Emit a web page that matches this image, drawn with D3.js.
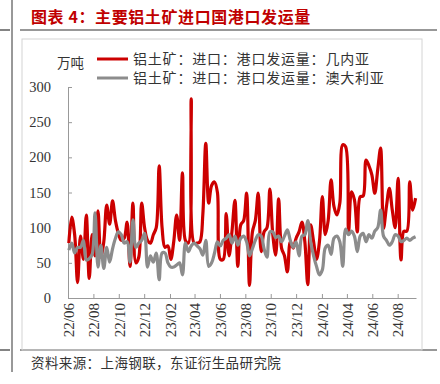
<!DOCTYPE html>
<html>
<head>
<meta charset="utf-8">
<style>body{margin:0;background:#fff}</style>
</head>
<body>
<script src="https://d3js.org/d3.v7.min.js"></script>
<script>
// weekly port shipments, 万吨
var guinea = [78,115,90,22,88,55,118,28,90,60,124,58,80,132,105,138,110,92,82,85,
  108,45,135,50,58,135,100,82,78,90,100,188,100,72,74,55,80,118,82,178,
  82,78,283,78,78,80,120,220,135,160,165,150,55,55,120,60,95,139,45,104,
  110,149,18,94,110,149,66,94,100,155,90,61,141,71,60,37,80,71,85,94,
  108,80,19,104,80,55,80,144,90,110,168,130,118,135,218,215,94,151,140,94,
  144,145,196,188,175,149,182,213,99,130,156,125,100,170,54,95,95,165,125,142];
var australia = [68,78,64,72,72,82,54,56,62,121,44,75,42,72,51,70,85,94,90,78,
  80,51,111,72,78,82,92,44,60,51,64,26,64,64,50,44,44,47,50,33,
  78,66,74,78,74,70,61,82,45,50,64,80,74,82,85,90,78,88,75,85,
  88,80,60,70,82,90,88,70,58,94,94,86,88,80,88,97,82,72,80,60,
  88,90,110,80,60,45,33,40,71,75,62,85,88,80,45,98,90,95,88,66,
  88,92,80,90,85,95,100,125,88,82,75,80,90,88,80,82,85,82,85,87];
var firstWeek = "2022-06-03";
var tickMonths = ["2022-06-01","2022-08-01","2022-10-01","2022-12-01","2023-02-01","2023-04-01","2023-06-01",
  "2023-08-01","2023-10-01","2023-12-01","2024-02-01","2024-04-01","2024-06-01","2024-08-01"];
var tickLabels = ["22/06","22/08","22/10","22/12","23/02","23/04","23/06","23/08","23/10","23/12","24/02","24/04","24/06","24/08"];
var yTicks = [0,50,100,150,200,250,300];
var seriesNames = ["铝土矿：进口：港口发运量：几内亚","铝土矿：进口：港口发运量：澳大利亚"];
var colors = ["#cc0000","#8c8c8c"];

var w = 440, h = 384;
var parse = d3.timeParse("%Y-%m-%d");
var start = parse(firstWeek);
var weeks = guinea.map(function(d,i){ return d3.timeWeek.offset(start, i); });

var svg = d3.select('body').append('svg').attr('width',w).attr('height',h)
  .style('font-family','"Noto Sans CJK SC", sans-serif');

// frame lines
svg.append('line').attr('x1',12).attr('x2',12).attr('y1',0).attr('y2',372).attr('stroke','#333').attr('stroke-width',1);
[30,350].forEach(function(yy){
  svg.append('line').attr('x1',0).attr('x2',10).attr('y1',yy).attr('y2',yy).attr('stroke','#333').attr('stroke-width',1.2);
  svg.append('line').attr('x1',20).attr('x2',437).attr('y1',yy).attr('y2',yy).attr('stroke','#333').attr('stroke-width',1.2);
});
svg.append('rect').attr('x',22).attr('y',39).attr('width',400).attr('height',311)
  .attr('fill','none').attr('stroke','#d4d4d4');

svg.append('text').attr('x',31).attr('y',23).attr('fill','#c00000')
  .attr('font-size',16).attr('font-weight','bold').attr('letter-spacing',0.6)
  .text('图表 4：主要铝土矿进口国港口发运量');
svg.append('text').attr('x',31).attr('y',368).attr('fill','#333')
  .attr('font-size',13.5).attr('letter-spacing',0.4)
  .text('资料来源：上海钢联，东证衍生品研究院');

var x = d3.scaleTime().domain([parse("2022-06-01"), parse("2024-09-14")]).range([68,416]);
var y = d3.scaleLinear().domain([0,300]).range([298,87]);

var gx = svg.append('g').attr('transform','translate(0,298)')
  .call(d3.axisBottom(x).tickValues(tickMonths.map(parse)).tickSize(-4).tickSizeOuter(0)
    .tickFormat(function(d,i){ return tickLabels[i]; }));
gx.selectAll('text').attr('transform','rotate(-90)').attr('text-anchor','end')
  .attr('x',-5).attr('y',0).attr('dy','0.35em')
  .style('font-family','"Liberation Serif", serif').style('font-size','15px').attr('fill','#333');

var gy = svg.append('g').attr('transform','translate(68,0)')
  .call(d3.axisLeft(y).tickValues(yTicks).tickSize(-4).tickSizeOuter(0));
gy.selectAll('text').attr('x',-17)
  .style('font-family','"Liberation Serif", serif').style('font-size','14.5px').attr('fill','#333');
svg.selectAll('.domain, .tick line').attr('stroke','#999');

var line = d3.line().curve(d3.curveCatmullRom.alpha(0.5))
  .x(function(d,i){ return x(weeks[i]); }).y(function(d){ return y(d); });
[guinea, australia].forEach(function(s,k){
  svg.append('path').datum(s).attr('d',line).attr('fill','none')
    .attr('stroke',colors[k]).attr('stroke-width',3.2).attr('stroke-linejoin','round');
});

// legend
svg.append('text').attr('x',57).attr('y',68).attr('font-size',13.5).attr('fill','#333').text('万吨');
seriesNames.forEach(function(n,k){
  var ly = 59 + k*19;
  svg.append('line').attr('x1',97).attr('x2',128).attr('y1',ly).attr('y2',ly)
    .attr('stroke',colors[k]).attr('stroke-width',3);
  svg.append('text').attr('x',133).attr('y',ly+5).attr('font-size',14).attr('letter-spacing',0.8)
    .attr('fill','#333').text(n);
});
</script>
</body>
</html>
